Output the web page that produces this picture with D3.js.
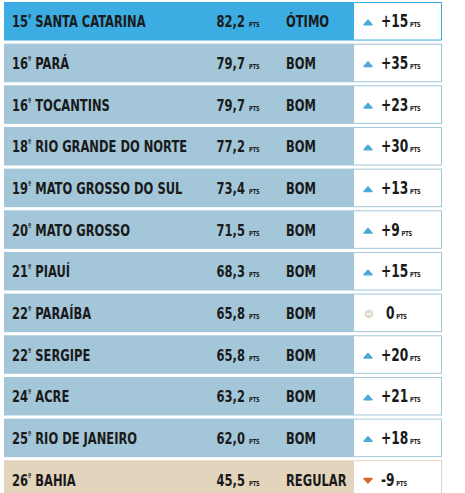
<!DOCTYPE html><html><head><meta charset="utf-8"><script src="https://d3js.org/d3.v7.min.js"></script>
<style>body{margin:0;background:#fff}text{font-family:"DejaVu Sans Condensed","DejaVu Sans";font-weight:bold;fill:#1a1a1a}</style></head><body><svg id="c" width="465" height="493"></svg>
<script>
const ranks=["15","16","16","18","19","20","21","22","22","24","25","26"];
const states=["SANTA CATARINA","PARÁ","TOCANTINS","RIO GRANDE DO NORTE","MATO GROSSO DO SUL","MATO GROSSO","PIAUÍ","PARAÍBA","SERGIPE","ACRE","RIO DE JANEIRO","BAHIA"];
const scores=["82,2","79,7","79,7","77,2","73,4","71,5","68,3","65,8","65,8","63,2","62,0","45,5"];
const ratings=["ÓTIMO","BOM","BOM","BOM","BOM","BOM","BOM","BOM","BOM","BOM","BOM","REGULAR"];
const changes=[15,35,23,30,13,9,15,0,20,21,18,-9];
const svg=d3.select("#c");
const y=d3.scaleBand().domain(d3.range(states.length)).range([2,2+41.4*12]).paddingInner(0.075).paddingOuter(0);
const fill=r=>r==="ÓTIMO"?"#3badE2":r==="REGULAR"?"#e3d4bd":"#a3c7d9";
const g=svg.selectAll("g.r").data(states).join("g").attr("transform",(d,i)=>`translate(0,${y(i)})`);
const h=y.bandwidth(), by=h/2+6, sx=0.8;
const txt=(sel,x)=>sel.append("text").attr("transform",`translate(${x},${by}) scale(${sx},1)`);
g.append("rect").attr("x",4).attr("width",349).attr("height",h).attr("fill",(d,i)=>fill(ratings[i]));
g.append("rect").attr("x",353.5).attr("y",0.5).attr("width",88).attr("height",h-1).attr("fill","#fff").attr("stroke",(d,i)=>fill(ratings[i])).attr("stroke-width",1);
const t=txt(g,12).style("font-size","16px");
t.append("tspan").text((d,i)=>ranks[i]);
t.append("tspan").text("º").style("font-size","8px").attr("dy",-7);
t.append("tspan").text(d=>" "+d).attr("dy",7);
txt(g,245).attr("text-anchor","end").style("font-size","16px").text((d,i)=>scores[i]);
txt(g,249).style("font-size","7px").text("PTS");
txt(g,286).style("font-size","16px").text((d,i)=>ratings[i]);
g.each(function(d,i){const s=d3.select(this),c=changes[i],cy=h/2+1;
 if(c>0)s.append("path").attr("d",`M364,${cy+2.5}L368,${cy-2}L372,${cy+2.5}Z`).attr("fill","#4aaad8").attr("stroke","#4aaad8").attr("stroke-linejoin","round").attr("stroke-width",1.5);
 else if(c<0)s.append("path").attr("d",`M364,${cy-2}L368,${cy+2.5}L372,${cy-2}Z`).attr("fill","#d9662c").attr("stroke","#d9662c").attr("stroke-linejoin","round").attr("stroke-width",1.5);
 else{s.append("circle").attr("cx",369).attr("cy",cy).attr("r",4.5).attr("fill","#e3dbcf");s.append("rect").attr("x",366.5).attr("y",cy-0.6).attr("width",5).attr("height",1.2).attr("fill","#fff");}
 const tx=txt(s,c===0?386:381).style("font-size","17px");
 tx.append("tspan").text(c>0?"+"+c:String(c));
 tx.append("tspan").text(" PTS").style("font-size","7px");
});
</script></body></html>
